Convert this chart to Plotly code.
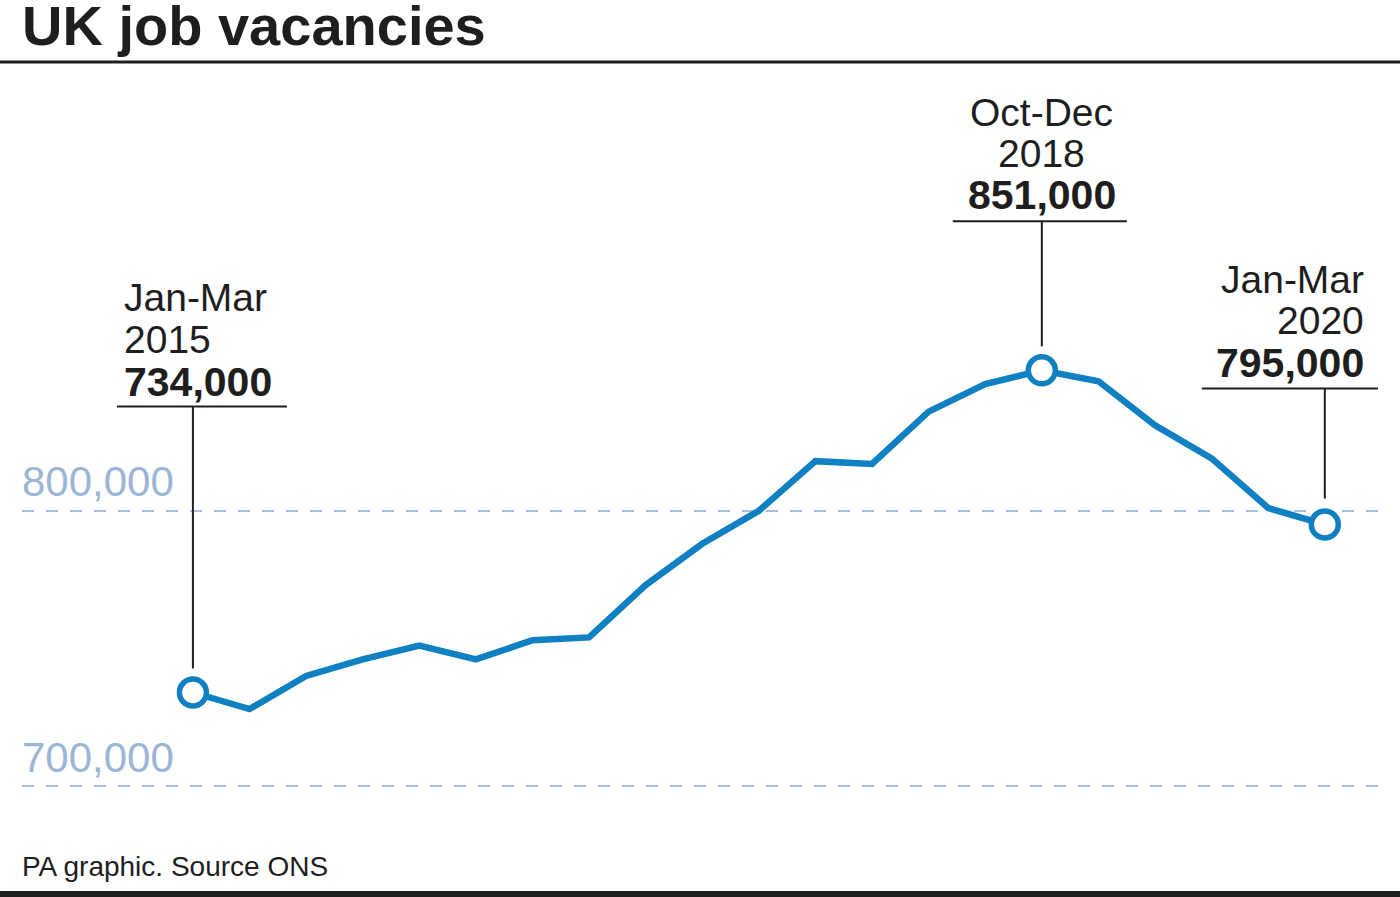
import plotly.graph_objects as go

# ---------------- data ----------------
quarters = [
    "Jan-Mar 2015", "Apr-Jun 2015", "Jul-Sep 2015", "Oct-Dec 2015",
    "Jan-Mar 2016", "Apr-Jun 2016", "Jul-Sep 2016", "Oct-Dec 2016",
    "Jan-Mar 2017", "Apr-Jun 2017", "Jul-Sep 2017", "Oct-Dec 2017",
    "Jan-Mar 2018", "Apr-Jun 2018", "Jul-Sep 2018", "Oct-Dec 2018",
    "Jan-Mar 2019", "Apr-Jun 2019", "Jul-Sep 2019", "Oct-Dec 2019",
    "Jan-Mar 2020",
]
vacancies = [
    734000, 728000, 740000, 746000, 751000, 746000, 753000, 754000,
    773000, 788000, 800000, 818000, 817000, 836000, 846000, 851000,
    847000, 831000, 819000, 801000, 795000,
]
tick_values = [700000, 800000]
tick_labels = ["700,000", "800,000"]
highlight_idx = [0, 15, 20]

title_text = "UK job vacancies"
source_text = "PA graphic. Source ONS"

# ---------------- style ----------------
LINE_COL = "#0f80c1"
GRID_COL = "#a9c0dd"
TICK_COL = "#9ab5d6"
INK = "#1e1e1e"
FONT = "Liberation Sans, Arial, Helvetica, sans-serif"

label_style = [
    dict(xanchor="left", xshift=-71, bx0=-76, bx1=94, bar=286, lead=24, ys=[395, 353, 311]),
    dict(xanchor="center", xshift=0, bx0=-89, bx1=85, bar=149, lead=24, ys=[258, 217, 175]),
    dict(xanchor="right", xshift=41, bx0=-123, bx1=54, bar=136, lead=26, ys=[245, 204, 162]),
]

fig = go.Figure()
fig.add_trace(go.Scatter(
    x=quarters, y=vacancies, mode="lines",
    line=dict(color=LINE_COL, width=6.5),
    hoverinfo="skip", showlegend=False,
))
fig.add_trace(go.Scatter(
    x=[quarters[i] for i in highlight_idx],
    y=[vacancies[i] for i in highlight_idx],
    mode="markers",
    marker=dict(size=27, color="white", line=dict(color=LINE_COL, width=5.5)),
    hoverinfo="skip", showlegend=False,
))

annotations = []
shapes = []
for st, i in zip(label_style, highlight_idx):
    period, year = quarters[i].split(" ")
    value = f"{vacancies[i]:,}"
    texts = [(period, 39), (year, 39), (f"<b>{value}</b>", 41)]
    for (t, fs), ys in zip(texts, st["ys"]):
        annotations.append(dict(
            x=quarters[i], y=vacancies[i], xref="x", yref="y",
            text=t, showarrow=False, xanchor=st["xanchor"], yanchor="middle",
            xshift=st["xshift"], yshift=ys,
            font=dict(family=FONT, size=fs, color=INK),
        ))
    shapes.append(dict(
        type="line", xref="x", yref="y", ysizemode="pixel",
        x0=i, x1=i, yanchor=vacancies[i], y0=st["lead"], y1=st["bar"],
        line=dict(color=INK, width=2),
    ))
    shapes.append(dict(
        type="line", xref="x", yref="y", xsizemode="pixel", ysizemode="pixel",
        xanchor=i, x0=st["bx0"], x1=st["bx1"],
        yanchor=vacancies[i], y0=st["bar"], y1=st["bar"],
        line=dict(color=INK, width=2),
    ))

for v, lab in zip(tick_values, tick_labels):
    annotations.append(dict(
        x=0, xref="paper", y=v, yref="y", text=lab, showarrow=False,
        xanchor="left", yanchor="middle", yshift=29, xshift=-2,
        font=dict(family=FONT, size=42, color=TICK_COL),
    ))

H, W = 897, 1400
MT, MB, ML, MR = 62, 97, 22, 22
ph = H - MT - MB
pw = W - ML - MR

annotations.append(dict(
    x=0, xref="paper", y=1 + (MT + 8) / ph, yref="paper", text=f"<b>{title_text}</b>",
    showarrow=False, xanchor="left", yanchor="top", xshift=-2,
    font=dict(family=FONT, size=56, color=INK),
))
annotations.append(dict(
    x=0, xref="paper", y=(H - MB - 867) / ph, yref="paper", text=source_text,
    showarrow=False, xanchor="left", yanchor="middle", xshift=-2,
    font=dict(family=FONT, size=28, color=INK),
))

shapes.append(dict(type="line", xref="paper", yref="paper",
                   x0=-ML / pw, x1=1 + MR / pw, y0=1, y1=1,
                   line=dict(color=INK, width=3)))
shapes.append(dict(type="line", xref="paper", yref="paper",
                   x0=-ML / pw, x1=1 + MR / pw,
                   y0=(H - MB - 894) / ph, y1=(H - MB - 894) / ph,
                   line=dict(color=INK, width=6)))

fig.update_layout(
    width=W, height=H,
    margin=dict(l=ML, r=MR, t=MT, b=MB),
    paper_bgcolor="white", plot_bgcolor="white",
    showlegend=False,
    annotations=annotations,
    shapes=shapes,
    xaxis=dict(range=[-3.02, 20.94], showgrid=False, showticklabels=False,
               zeroline=False, showline=False, ticks=""),
    yaxis=dict(range=[694964, 962950], tickvals=tick_values, showticklabels=False,
               showgrid=True, gridcolor=GRID_COL, gridwidth=2, griddash="12px,12px",
               zeroline=False, showline=False, ticks=""),
)

fig.write_html("out.html")
